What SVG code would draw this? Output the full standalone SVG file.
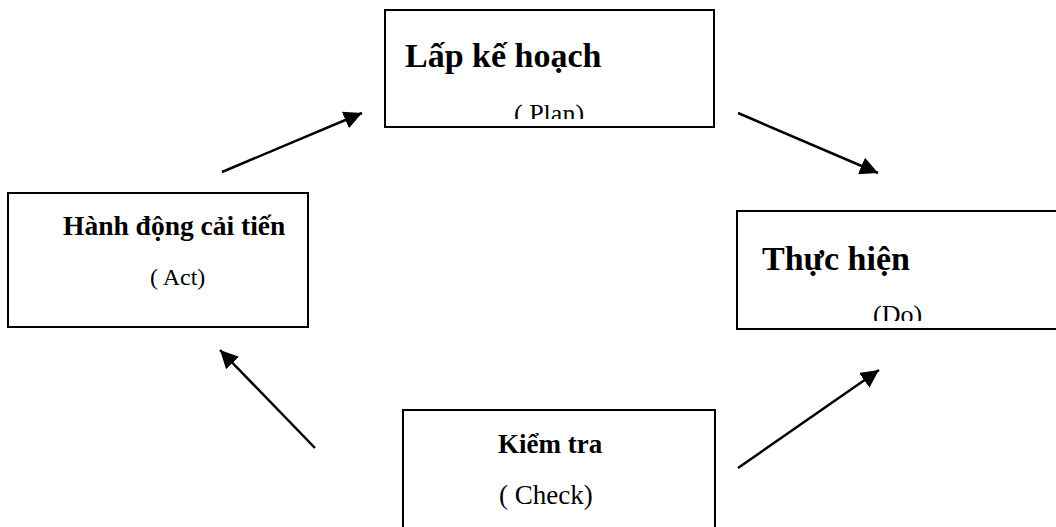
<svg xmlns="http://www.w3.org/2000/svg" width="1056" height="527" viewBox="0 0 1056 527">
  <style>
    .box { fill: #fff; stroke: #000; stroke-width: 2; }
    .title { font-family: "Liberation Serif", "Times New Roman", serif; font-weight: bold; fill: #000; }
    .sub { font-family: "Liberation Serif", "Times New Roman", serif; fill: #000; }
    .arrow { stroke: #000; stroke-width: 2.5; fill: none; marker-end: url(#ah); }
  </style>
  <defs>
    <marker id="ah" markerUnits="userSpaceOnUse" markerWidth="20" markerHeight="18" viewBox="0 0 20 18" refX="18" refY="9" orient="auto">
      <path d="M0,0 L18,9 L0,18 Z" fill="#000"/>
    </marker>
    <clipPath id="clipPlan"><rect x="386" y="11" width="327" height="108"/></clipPath>
    <clipPath id="clipDo"><rect x="738" y="212" width="318" height="109"/></clipPath>
  </defs>
  <rect width="1056" height="527" fill="#fff"/>

  <g id="plan">
    <rect class="box" x="385" y="10" width="329" height="117"/>
    <text class="title" x="405" y="67" font-size="34">Lấp kế hoạch</text>
    <g clip-path="url(#clipPlan)">
      <text class="sub" x="514" y="122" font-size="26">( Plan)</text>
    </g>
  </g>

  <g id="do">
    <rect class="box" x="737" y="211" width="340" height="118"/>
    <text class="title" x="762" y="270" font-size="34">Thực hiện</text>
    <g clip-path="url(#clipDo)">
      <text class="sub" x="873" y="323" font-size="26">(Do)</text>
    </g>
  </g>

  <g id="act">
    <rect class="box" x="8" y="193" width="300" height="134"/>
    <text class="title" x="63" y="235" font-size="27.5">Hành động cải tiến</text>
    <text class="sub" x="150" y="285" font-size="24">( Act)</text>
  </g>

  <g id="check">
    <rect class="box" x="403" y="410" width="312" height="140"/>
    <text class="title" x="498" y="453" font-size="27">Kiểm tra</text>
    <text class="sub" x="499" y="504" font-size="27">( Check)</text>
  </g>

  <g id="connectors">
    <line class="arrow" x1="222" y1="172" x2="362" y2="113"/>
    <line class="arrow" x1="738" y1="113" x2="878" y2="173"/>
    <line class="arrow" x1="738" y1="468" x2="879" y2="370"/>
    <line class="arrow" x1="315" y1="448" x2="220" y2="350"/>
  </g>
</svg>
